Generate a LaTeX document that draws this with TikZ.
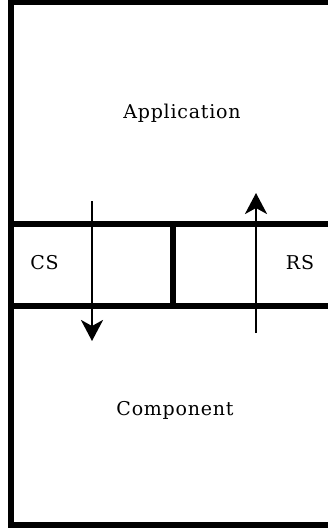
\documentclass[tikz,border=0pt]{standalone}
\usepackage{fontspec}
\setmainfont[LetterSpace=4]{DejaVu Serif}
\usetikzlibrary{arrows.meta}
\begin{document}
\begin{tikzpicture}[x=1pt,y=-1pt,
    wall/.style={line width=6pt},
    layer/.style={font=\fontsize{19}{22}\selectfont},
    flow/.style={line width=2.8pt,-{Stealth[length=21pt,width=22pt,inset=6pt]}}]
    \useasboundingbox (0,0) rectangle (328,528);
    \clip (0,0) rectangle (328,528);
    % outer frame, right side runs off the page
    \draw[wall] (11,2) rectangle (345,525);
    \draw[wall] (8,223.5) -- (340,223.5);
    \draw[wall] (8,305.5) -- (340,305.5);
    \draw[wall] (173,223.5) -- (173,305.5);

    \node[layer] (app) at (182,113) {Application};
    \node[layer] (comp) at (175,410) {Component};
    \node[layer] (cs) at (44.5,263) {CS};
    \node[layer] (rs) at (300,263) {RS};

    \coordinate (cs-in) at (92,201);
    \coordinate (cs-out) at (92,341);
    \coordinate (rs-in) at (256,333);
    \coordinate (rs-out) at (256,193);
    \draw[flow] (cs-in) -- (cs-out);
    \draw[flow] (rs-in) -- (rs-out);
\end{tikzpicture}
\end{document}
